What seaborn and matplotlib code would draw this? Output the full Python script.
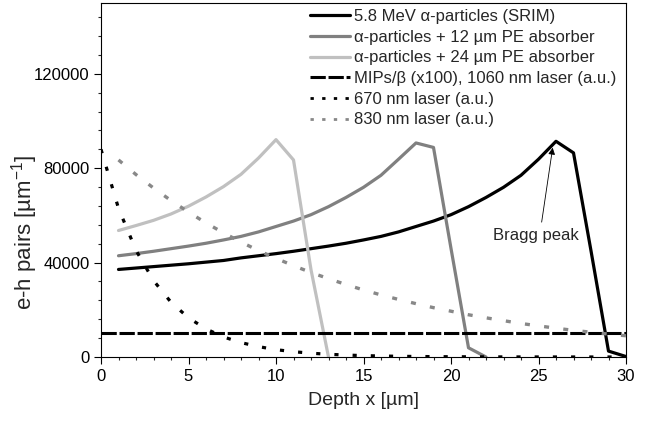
import matplotlib
matplotlib.use('Agg')
import matplotlib.pyplot as plt
import matplotlib.ticker as ticker
from matplotlib.lines import Line2D
import seaborn as sns

#%% Data
depth_srim = list(range(1, 31))
pairs_srim = [37100, 37700, 38300, 38900, 39500, 40200, 40900, 42000, 42900, 43800,
              44800, 45900, 47000, 48200, 49600, 51100, 53000, 55300, 57600, 60300,
              63700, 67600, 71900, 77000, 83800, 91400, 86500, 45000, 2500, 200]

depth_pe12 = list(range(1, 23))
pairs_pe12 = [42900, 43800, 44800, 45900, 47000, 48200, 49600, 51100, 53000, 55300,
              57600, 60300, 63700, 67600, 71900, 77000, 83800, 90700, 88800, 46000,
              3900, 0]

depth_pe24 = list(range(1, 14))
pairs_pe24 = [53600, 55700, 57900, 60600, 63900, 67800, 72200, 77400, 84300, 92100,
              83500, 37000, 0]

depth_mip = [0, 30]
pairs_mip = [10000, 10000]

depth_670 = list(range(0, 31))
pairs_670 = [88000, 63000, 45200, 32400, 23200, 16600, 11900, 8500, 6100, 4400,
             3100, 2250, 1600, 1150, 830, 590, 420, 300, 220, 155,
             110, 80, 57, 41, 29, 21, 15, 11, 8, 6, 4]

depth_830 = list(range(1, 31))
pairs_830 = [83500, 77300, 71600, 66300, 61400, 56800, 52600, 48700, 45100, 41800,
             38700, 35800, 33200, 30700, 28400, 26300, 24400, 22600, 20900, 19400,
             17900, 16600, 15400, 14200, 13200, 12200, 11300, 10500, 9700, 9000]

labels = ['5.8 MeV α-particles (SRIM)',
          'α-particles + 12 µm PE absorber',
          'α-particles + 24 µm PE absorber',
          'MIPs/β (x100), 1060 nm laser (a.u.)',
          '670 nm laser (a.u.)',
          '830 nm laser (a.u.)']

#%% Style
sns.set_style('ticks')
plt.rcParams['font.family'] = ['Liberation Sans', 'DejaVu Sans']
plt.rcParams['mathtext.fontset'] = 'custom'
plt.rcParams['mathtext.rm'] = 'Liberation Sans'

fig = plt.figure(figsize=(6.56, 4.21), dpi=100)
ax = fig.add_axes([101/656, 1 - 357/421, 525/656, 354/421])

#%% Curves
sns.lineplot(x=depth_srim, y=pairs_srim, ax=ax, color='black', linewidth=2.3)
sns.lineplot(x=depth_pe12, y=pairs_pe12, ax=ax, color='#808080', linewidth=2.3)
sns.lineplot(x=depth_pe24, y=pairs_pe24, ax=ax, color='#c0c0c0', linewidth=2.3)
sns.lineplot(x=depth_mip, y=pairs_mip, ax=ax, color='black', linewidth=2.2,
             linestyle=(0, (5.0, 0.9)))
sns.lineplot(x=depth_670, y=pairs_670, ax=ax, color='black', linewidth=2.3,
             linestyle=(0, (1.3, 4.4)))
sns.lineplot(x=depth_830, y=pairs_830, ax=ax, color='#888888', linewidth=2.4,
             linestyle=(0, (1.5, 4.3)))

#%% Axes
ax.set_xlim(0, 30)
ax.set_ylim(0, 150000)
ax.xaxis.set_major_locator(ticker.MultipleLocator(5))
ax.xaxis.set_minor_locator(ticker.MultipleLocator(1))
ax.yaxis.set_major_locator(ticker.MultipleLocator(40000))
ax.yaxis.set_minor_locator(ticker.MultipleLocator(8000))
ax.tick_params(which='major', direction='out', length=4.8, width=0.8, labelsize=12, colors='black')
ax.tick_params(which='minor', direction='out', length=2.3, width=0.8)
for s in ax.spines.values():
    s.set_visible(True)
    s.set_color('black')
    s.set_linewidth(0.8)

ax.set_xlabel('Depth x [µm]', fontsize=14, labelpad=6)
ax.set_ylabel('e-h pairs [µm$^{\\mathregular{-1}}$]', fontsize=16)
ax.yaxis.set_label_coords((40 - 101) / 525, (357 - 232) / 354)

#%% Bragg peak annotation
ax.annotate('', xy=(25.81, 88700), xytext=(25.18, 57150),
            arrowprops=dict(arrowstyle='-|>', color='black', lw=0.6, mutation_scale=10,
                            shrinkA=0, shrinkB=0))
ax.text(24.86, 49400, 'Bragg peak', fontsize=12, ha='center', va='baseline')

#%% Legend
handles = [Line2D([], [], color='black', lw=2.3),
           Line2D([], [], color='#808080', lw=2.3),
           Line2D([], [], color='#c0c0c0', lw=2.3),
           Line2D([], [], color='black', lw=2.2, linestyle=(0, (5.0, 0.9))),
           Line2D([], [], color='black', lw=2.0, linestyle=(0, (1.2, 3.0))),
           Line2D([], [], color='#888888', lw=2.0, linestyle=(0, (1.2, 3.0)))]
fig.legend(handles, labels, loc='upper left', bbox_to_anchor=(310/656, 1 - 9/421),
           frameon=False, fontsize=12, handlelength=2.4, handletextpad=0.25,
           labelspacing=0.34, borderpad=0, borderaxespad=0)

fig.savefig('out.png', dpi=100)
